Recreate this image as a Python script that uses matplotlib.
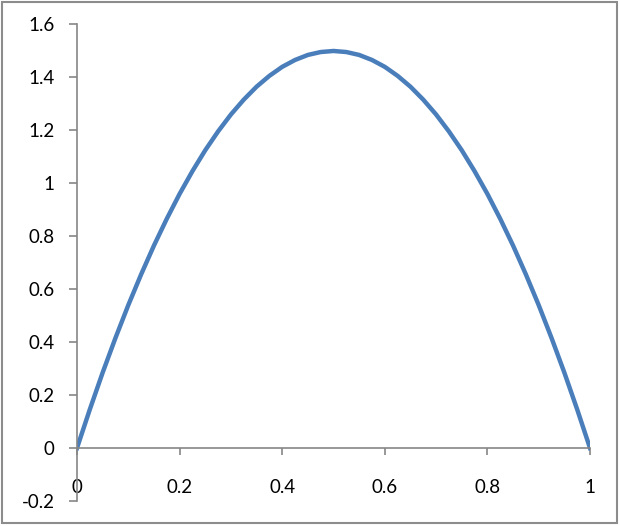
import matplotlib
matplotlib.use("Agg")
import matplotlib.pyplot as plt
from matplotlib.patches import Rectangle

# values
xs = [0.0, 0.025, 0.05, 0.075, 0.1, 0.125, 0.15, 0.175, 0.2, 0.225,
      0.25, 0.275, 0.3, 0.325, 0.35, 0.375, 0.4, 0.425, 0.45, 0.475,
      0.5, 0.525, 0.55, 0.575, 0.6, 0.625, 0.65, 0.675, 0.7, 0.725,
      0.75, 0.775, 0.8, 0.825, 0.85, 0.875, 0.9, 0.925, 0.95, 0.975, 1.0]
ys = [0.0, 0.146, 0.285, 0.416, 0.54, 0.656, 0.765, 0.866, 0.96, 1.046,
      1.125, 1.196, 1.26, 1.316, 1.365, 1.406, 1.44, 1.466, 1.485, 1.496,
      1.5, 1.496, 1.485, 1.466, 1.44, 1.406, 1.365, 1.316, 1.26, 1.196,
      1.125, 1.046, 0.96, 0.866, 0.765, 0.656, 0.54, 0.416, 0.285, 0.146, 0.0]
xticks = [0, 0.2, 0.4, 0.6, 0.8, 1]
xlabels = ["0", "0.2", "0.4", "0.6", "0.8", "1"]
yticks = [-0.2, 0, 0.2, 0.4, 0.6, 0.8, 1, 1.2, 1.4, 1.6]
ylabels = ["-0.2", "0", "0.2", "0.4", "0.6", "0.8", "1", "1.2", "1.4", "1.6"]

plt.rcParams['font.family'] = ['Lato', 'DejaVu Sans']
gray = "#868686"

fig = plt.figure(figsize=(6.2, 5.26), dpi=100)
ax = fig.add_axes([77/620, 25/526, 513/620, 476.5/526])

ax.plot(xs, ys, color="#4A7EBB", lw=3.2, solid_joinstyle="round")

ax.set_xlim(0, 1)
ax.set_ylim(-0.2, 1.6)
ax.set_xticks(xticks)
ax.set_xticklabels(xlabels)
ax.set_yticks(yticks)
ax.set_yticklabels(ylabels)

for s in ["top", "right"]:
    ax.spines[s].set_visible(False)
ax.spines["bottom"].set_position(("data", 0))
ax.spines["bottom"].set_color(gray)
ax.spines["left"].set_color(gray)
ax.spines["bottom"].set_linewidth(1.2)
ax.spines["left"].set_linewidth(1.2)
ax.tick_params(axis="x", direction="out", length=5, width=1.2, color=gray,
               pad=17, labelsize=13.5)
ax.tick_params(axis="y", direction="out", length=6, width=1.2, color=gray,
               pad=10, labelsize=13.5)

# chart border
fig.patches.append(Rectangle((2/620, 3/526), 615/620, 521/526,
                             transform=fig.transFigure, fill=False,
                             edgecolor="#8c8c8c", lw=1.5))

fig.savefig("out.png", dpi=100)
